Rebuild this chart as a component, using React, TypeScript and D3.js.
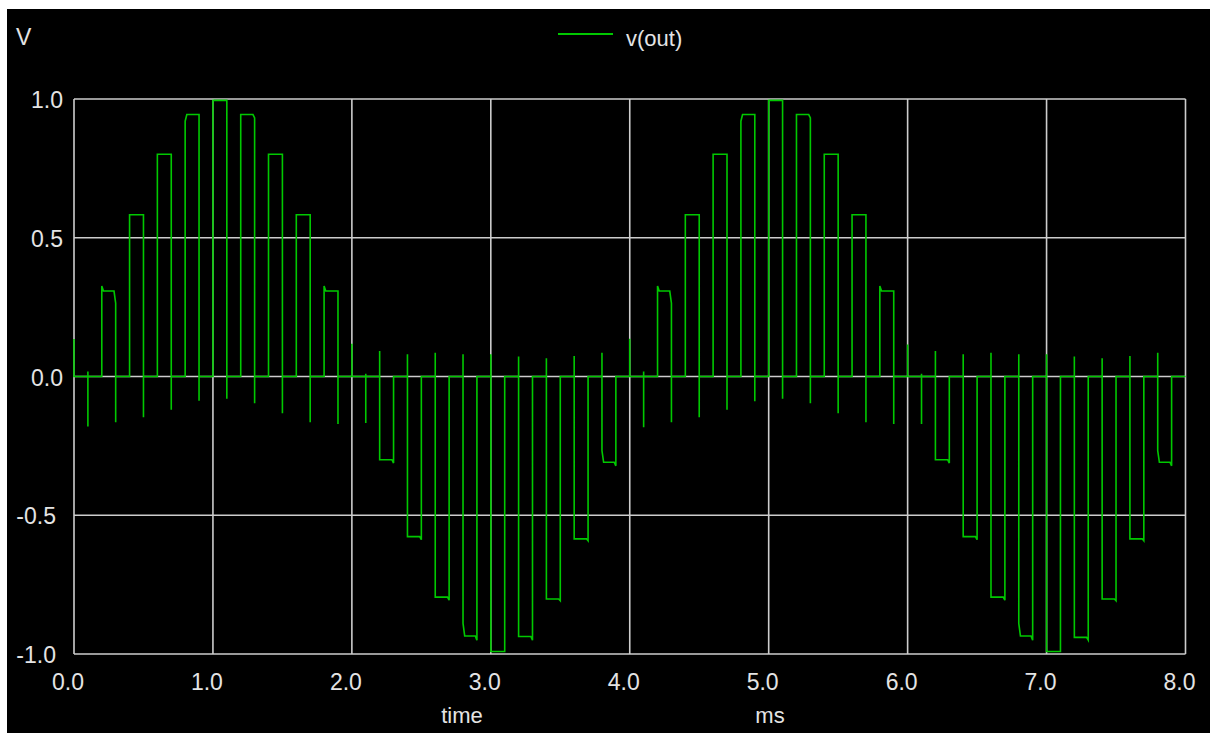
import React from 'react';
import * as d3 from 'd3';

// axis ticks
const xTicks = [0, 1, 2, 3, 4, 5, 6, 7, 8];
const yTicks = [-1.0, -0.5, 0.0, 0.5, 1.0];

// sample pulses of v(out): leading / trailing edge (ms)
const pulseStart = [
  0.2, 0.4, 0.6, 0.8, 1.0, 1.2, 1.4, 1.6, 1.8,
  2.2, 2.4, 2.6, 2.8, 3.0, 3.2, 3.4, 3.6, 3.8,
  4.2, 4.4, 4.6, 4.8, 5.0, 5.2, 5.4, 5.6, 5.8,
  6.2, 6.4, 6.6, 6.8, 7.0, 7.2, 7.4, 7.6, 7.8,
];
const pulseEnd = [
  0.3, 0.5, 0.7, 0.9, 1.1, 1.3, 1.5, 1.7, 1.9,
  2.3, 2.5, 2.7, 2.9, 3.1, 3.3, 3.5, 3.7, 3.9,
  4.3, 4.5, 4.7, 4.9, 5.1, 5.3, 5.5, 5.7, 5.9,
  6.3, 6.5, 6.7, 6.9, 7.1, 7.3, 7.5, 7.7, 7.9,
];
// spike at the leading edge (V)
const leadSpike = [
  0, 0, 0, 0, 0, 0, 0, 0, 0,
  0.092, 0.080, 0.086, 0.080, 0.080, 0.072, 0.066, 0.074, 0.086,
  0, 0, 0, 0, 0, 0, 0, 0, 0,
  0.092, 0.080, 0.086, 0.080, 0.080, 0.072, 0.066, 0.074, 0.086,
];
// level right after the leading edge (V)
const entryLevel = [
  0.326, 0.583, 0.801, 0.920, 0.995, 0.944, 0.801, 0.583, 0.326,
  -0.300, -0.577, -0.795, -0.890, -0.991, -0.937, -0.802, -0.585, -0.267,
  0.326, 0.583, 0.801, 0.920, 0.995, 0.944, 0.801, 0.583, 0.326,
  -0.300, -0.577, -0.795, -0.890, -0.991, -0.940, -0.802, -0.585, -0.267,
];
// held sample value (V)
const holdLevel = [
  0.308, 0.583, 0.801, 0.944, 0.995, 0.944, 0.801, 0.583, 0.308,
  -0.300, -0.577, -0.795, -0.935, -0.991, -0.937, -0.802, -0.585, -0.309,
  0.308, 0.583, 0.801, 0.944, 0.995, 0.944, 0.801, 0.583, 0.308,
  -0.300, -0.577, -0.795, -0.935, -0.991, -0.940, -0.802, -0.585, -0.309,
];
// level just before the trailing edge (V)
const exitLevel = [
  0.264, 0.583, 0.801, 0.944, 0.995, 0.932, 0.801, 0.583, 0.308,
  -0.312, -0.588, -0.806, -0.950, -0.991, -0.950, -0.808, -0.592, -0.322,
  0.264, 0.583, 0.801, 0.944, 0.995, 0.932, 0.801, 0.583, 0.308,
  -0.312, -0.588, -0.806, -0.950, -0.991, -0.950, -0.808, -0.592, -0.322,
];
// spike at the trailing edge (V)
const trailSpike = [
  -0.165, -0.147, -0.120, -0.087, -0.080, -0.096, -0.132, -0.165, -0.171,
  0, 0, 0, 0, 0, 0, 0, 0, 0,
  -0.165, -0.147, -0.120, -0.089, -0.080, -0.096, -0.132, -0.165, -0.171,
  0, 0, 0, 0, 0, 0, 0, 0, 0,
];

// switching glitches around the zero crossings
const glitchTime = [0.0, 0.1, 2.0, 2.1, 4.0, 4.1, 6.0, 6.1];
const glitchHigh = [0.135, 0.018, 0.118, 0.010, 0.136, 0.018, 0.115, 0.010];
const glitchLow = [0, -0.180, 0, -0.168, 0, -0.183, 0, -0.171];

const W = 1210;
const H = 733;
const margin = { top: 99, right: 24.5, bottom: 79, left: 74 };
const SETTLE = 0.012; // ms, settling step after an edge
const FONT = '"Liberation Sans", Arial, sans-serif';
const TEXT = '#e4e4e4';
const GRID = '#cdcdcd';
const TRACE = '#00c800';

type Pt = [number, number];

function tracePoints(): Pt[] {
  const events: { t: number; pts: Pt[] }[] = [];
  glitchTime.forEach((t, i) => {
    events.push({ t, pts: [[t, 0], [t, glitchHigh[i]], [t, glitchLow[i]], [t, 0]] });
  });
  pulseStart.forEach((t0, i) => {
    const t1 = pulseEnd[i];
    events.push({
      t: t0,
      pts: [
        [t0, 0],
        [t0, leadSpike[i]],
        [t0, entryLevel[i]],
        [t0 + SETTLE, holdLevel[i]],
        [t1 - SETTLE, holdLevel[i]],
        [t1, exitLevel[i]],
        [t1, trailSpike[i]],
        [t1, 0],
      ],
    });
  });
  events.sort((a, b) => a.t - b.t);
  const pts = events.flatMap(e => e.pts);
  pts.push([8, 0]);
  return pts;
}

export default function App() {
  const x = d3.scaleLinear().domain([0, 8]).range([margin.left, W - margin.right]);
  const y = d3.scaleLinear().domain([-1, 1]).range([H - margin.bottom, margin.top]);
  // plain hyphen for the minus sign, as in the original plot
  const fmt = (v: number) => d3.format('.1f')(v).replace('\u2212', '-');

  const line = d3.line<Pt>()
    .x(d => x(d[0]))
    .y(d => y(d[1]));
  const path = line(tracePoints()) || '';

  return (
    <svg
      width={W}
      height={H}
      viewBox={`0 0 ${W} ${H}`}
      style={{ position: 'absolute', left: 0, top: 0, fontFamily: FONT }}
    >
      <rect x={0} y={0} width={W} height={H} fill="#fff" />
      <rect x={7} y={9} width={W - 7} height={H - 9} fill="#000" />

      {/* grid */}
      <g stroke={GRID} strokeWidth={1.6} fill="none">
        {xTicks.map(t => (
          <line key={'gx' + t} x1={x(t)} x2={x(t)} y1={y(1)} y2={y(-1)} />
        ))}
        {yTicks.map(t => (
          <line key={'gy' + t} x1={x(0)} x2={x(8)} y1={y(t)} y2={y(t)} />
        ))}
      </g>

      {/* trace */}
      <path d={path} fill="none" stroke={TRACE} strokeWidth={1.6} strokeLinejoin="miter" />

      {/* y tick labels */}
      <g fill={TEXT} fontSize={23} textAnchor="end">
        {yTicks.map(t => (
          <text key={'ty' + t} x={t < 0 ? 56 : 63} y={y(t) + 9}>{fmt(t)}</text>
        ))}
      </g>

      {/* x tick labels */}
      <g fill={TEXT} fontSize={23} textAnchor="middle">
        {xTicks.map(t => (
          <text key={'tx' + t} x={x(t) - 6} y={690}>{fmt(t)}</text>
        ))}
      </g>

      {/* axis titles */}
      <text x={16} y={45} fill={TEXT} fontSize={23}>V</text>
      <text x={462} y={723} fill={TEXT} fontSize={22} textAnchor="middle">time</text>
      <text x={770} y={723} fill={TEXT} fontSize={22} textAnchor="middle">ms</text>

      {/* legend */}
      <line x1={558} x2={613} y1={34} y2={34} stroke={TRACE} strokeWidth={2} />
      <text x={626} y={46} fill={TEXT} fontSize={22}>v(out)</text>
    </svg>
  );
}
